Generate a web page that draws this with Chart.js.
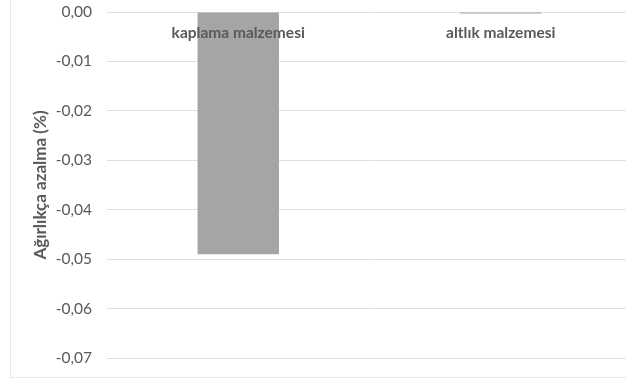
<!DOCTYPE html>
<html>
<head>
<meta charset="utf-8">
<script src="https://cdn.jsdelivr.net/npm/chart.js@4/dist/chart.umd.min.js"></script>
<style>
  html, body { margin: 0; padding: 0; background: #ffffff; overflow: hidden; }
  #wrap { position: relative; width: 640px; height: 382px; }
</style>
</head>
<body>
<div id="wrap"><canvas id="c" width="640" height="382"></canvas></div>
<script>
// Weight loss per material (%)
const categories = ['kaplama malzemesi', 'altlık malzemesi'];
const weightLoss = [-0.049, -0.0003];
const yTicks = [0, -0.01, -0.02, -0.03, -0.04, -0.05, -0.06, -0.07];

const textGrey = '#595959';
const fontFamily = 'Lato, "Open Sans", sans-serif';

// faint outer frame of the chart object
const framePlugin = {
  id: 'frame',
  beforeDraw(chart) {
    const ctx = chart.ctx;
    ctx.save();
    ctx.strokeStyle = '#e8e8e8';
    ctx.lineWidth = 1;
    ctx.strokeRect(10.5, -20, 700, 397.5);
    ctx.restore();
  }
};

// category names sit just under the zero line, on top of the bars
const categoryLabelPlugin = {
  id: 'categoryLabels',
  afterDatasetsDraw(chart) {
    const { ctx, scales: { x, y } } = chart;
    const y0 = y.getPixelForValue(0);
    ctx.save();
    ctx.fillStyle = textGrey;
    ctx.font = 'bold 15.5px ' + fontFamily;
    ctx.textAlign = 'center';
    ctx.textBaseline = 'middle';
    categories.forEach((name, i) => {
      ctx.fillText(name, x.getPixelForValue(i), y0 + 21);
    });
    ctx.restore();
  }
};

new Chart(document.getElementById('c'), {
  type: 'bar',
  data: {
    labels: categories,
    datasets: [{
      data: weightLoss,
      backgroundColor: '#a5a5a5',
      borderWidth: 0,
      barPercentage: 0.31,
      categoryPercentage: 1
    }]
  },
  options: {
    responsive: false,
    animation: false,
    layout: { padding: { top: 12, bottom: 24, right: 8, left: 0 } },
    plugins: { legend: { display: false }, tooltip: { enabled: false } },
    scales: {
      x: {
        display: false
      },
      y: {
        min: Math.min(...yTicks),
        max: Math.max(...yTicks),
        afterBuildTicks(scale) { scale.ticks = yTicks.map(v => ({ value: v })); },
        afterFit(scale) { scale.width = 107; },
        grid: { color: '#e0e0e0', lineWidth: 1, drawTicks: true, tickLength: 15, tickColor: 'rgba(0,0,0,0)' },
        border: { display: false },
        ticks: {
          color: textGrey,
          padding: 0,
          font: { family: fontFamily, size: 15.5 },
          callback: v => v.toFixed(2).replace('-0.00', '0.00').replace('.', ',')
        },
        title: {
          display: true,
          text: 'Ağırlıkça azalma (%)',
          color: textGrey,
          padding: { top: 30, bottom: 0 },
          font: { family: fontFamily, size: 17, weight: 'bold' }
        }
      }
    }
  },
  plugins: [framePlugin, categoryLabelPlugin]
});
</script>
</body>
</html>
